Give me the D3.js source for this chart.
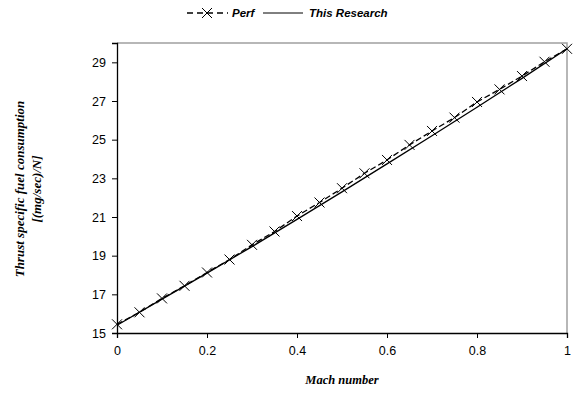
<!DOCTYPE html>
<html lang="en">
<head>
    <meta charset="UTF-8">
    <title>Thrust specific fuel consumption vs Mach number</title>
    <script src="https://d3js.org/d3.v7.min.js"></script>
    <style>
        body { margin: 0; background: #fff; }
    </style>
</head>
<body>
    <svg id="tsfcChart" width="581" height="402"></svg>

    <script>
        // Perf: markers every 0.05 Mach
        const perfMach = [0, 0.05, 0.1, 0.15, 0.2, 0.25, 0.3, 0.35, 0.4, 0.45, 0.5,
                          0.55, 0.6, 0.65, 0.7, 0.75, 0.8, 0.85, 0.9, 0.95, 1.0];
        const perfTsfc = [15.45, 16.07, 16.79, 17.44, 18.13, 18.8, 19.56, 20.25, 21.05, 21.75, 22.49,
                          23.26, 23.95, 24.73, 25.45, 26.14, 26.95, 27.6, 28.29, 29.03, 29.7];

        // This Research: solid line
        const researchMach = [0, 0.1, 0.2, 0.3, 0.4, 0.5, 0.6, 0.7, 0.8, 0.9, 1.0];
        const researchTsfc = [15.4, 16.75, 18.1, 19.47, 20.88, 22.3, 23.75, 25.2, 26.68, 28.17, 29.7];

        const xTicks = [0, 0.2, 0.4, 0.6, 0.8, 1];
        const yTicks = [15, 17, 19, 21, 23, 25, 27, 29];

        const svg = d3.select('#tsfcChart');
        const margin = { top: 43, right: 14, bottom: 69, left: 117 };
        const width = +svg.attr('width');
        const height = +svg.attr('height');

        const x = d3.scaleLinear()
            .domain([0, 1])
            .range([margin.left, width - margin.right]);

        const y = d3.scaleLinear()
            .domain([15, 30])
            .range([height - margin.bottom, margin.top]);

        // gray frame on top and right
        svg.append('path')
            .attr('d', `M${x(0)},${y(30)}H${x(1)}V${y(15)}`)
            .attr('fill', 'none')
            .attr('stroke', '#a0a0a0')
            .attr('stroke-width', 1.5);

        // x axis
        const xAxis = svg.append('g')
            .attr('transform', `translate(0,${y(15)})`)
            .call(d3.axisBottom(x).tickValues(xTicks).tickFormat(d3.format('')).tickSizeOuter(0).tickSize(5).tickPadding(8));

        // y axis
        const yAxis = svg.append('g')
            .attr('transform', `translate(${x(0)},0)`)
            .call(d3.axisLeft(y).tickValues(yTicks).tickSizeOuter(0).tickSize(5).tickPadding(6));

        [xAxis, yAxis].forEach(g => {
            g.select('.domain').attr('stroke', '#000').attr('stroke-width', 1.3);
            g.selectAll('.tick line').attr('stroke', '#000');
            g.selectAll('.tick text')
                .attr('fill', '#000')
                .style('font-family', 'Liberation Sans, Arial, sans-serif')
                .style('font-size', '12.5px');
        });

        // lines
        const researchData = researchMach.map((m, i) => ({ m: m, v: researchTsfc[i] }));
        const perfData = perfMach.map((m, i) => ({ m: m, v: perfTsfc[i] }));

        const line = d3.line()
            .x(d => x(d.m))
            .y(d => y(d.v));

        svg.append('path')
            .datum(researchData)
            .attr('fill', 'none')
            .attr('stroke', '#000')
            .attr('stroke-width', 1.3)
            .attr('d', line);

        svg.append('path')
            .datum(perfData)
            .attr('fill', 'none')
            .attr('stroke', '#000')
            .attr('stroke-width', 1.3)
            .attr('stroke-dasharray', '6,3')
            .attr('d', line);

        // X markers for Perf
        const s = 5;
        svg.selectAll('.perf-marker')
            .data(perfData)
            .enter().append('path')
            .attr('class', 'perf-marker')
            .attr('transform', d => `translate(${x(d.m)},${y(d.v)})`)
            .attr('d', `M${-s},${-s}L${s},${s}M${-s},${s}L${s},${-s}`)
            .attr('stroke', '#000')
            .attr('stroke-width', 1);

        // axis titles
        svg.append('text')
            .attr('x', (x(0) + x(1)) / 2)
            .attr('y', 384)
            .attr('text-anchor', 'middle')
            .style('font-family', 'Liberation Serif, Times New Roman, serif')
            .style('font-weight', 'bold')
            .style('font-style', 'italic')
            .style('font-size', '12.5px')
            .text('Mach number');

        const yTitle = svg.append('text')
            .attr('transform', 'translate(24,189) rotate(-90)')
            .attr('text-anchor', 'middle')
            .style('font-family', 'Liberation Serif, Times New Roman, serif')
            .style('font-weight', 'bold')
            .style('font-style', 'italic')
            .style('font-size', '13px');
        yTitle.append('tspan').attr('x', 0).attr('y', 0).text('Thrust specific fuel consumption');
        yTitle.append('tspan').attr('x', 0).attr('y', 17).text('[(mg/sec)/N]');

        // legend
        const legend = svg.append('g').attr('transform', 'translate(0,13)');
        legend.append('line')
            .attr('x1', 187).attr('x2', 228).attr('y1', 0).attr('y2', 0)
            .attr('stroke', '#000').attr('stroke-width', 1.5)
            .attr('stroke-dasharray', '6,4');
        legend.append('path')
            .attr('transform', 'translate(207,0)')
            .attr('d', `M${-s},${-s}L${s},${s}M${-s},${s}L${s},${-s}`)
            .attr('stroke', '#000');
        legend.append('text')
            .attr('x', 232).attr('y', 4)
            .style('font-family', 'Liberation Sans, Arial, sans-serif')
            .style('font-weight', 'bold').style('font-style', 'italic')
            .style('font-size', '11.5px')
            .text('Perf');
        legend.append('line')
            .attr('x1', 263).attr('x2', 303).attr('y1', 0).attr('y2', 0)
            .attr('stroke', '#000').attr('stroke-width', 1);
        legend.append('text')
            .attr('x', 309).attr('y', 4)
            .style('font-family', 'Liberation Sans, Arial, sans-serif')
            .style('font-weight', 'bold').style('font-style', 'italic')
            .style('font-size', '11.5px')
            .text('This Research');
    </script>
</body>
</html>
